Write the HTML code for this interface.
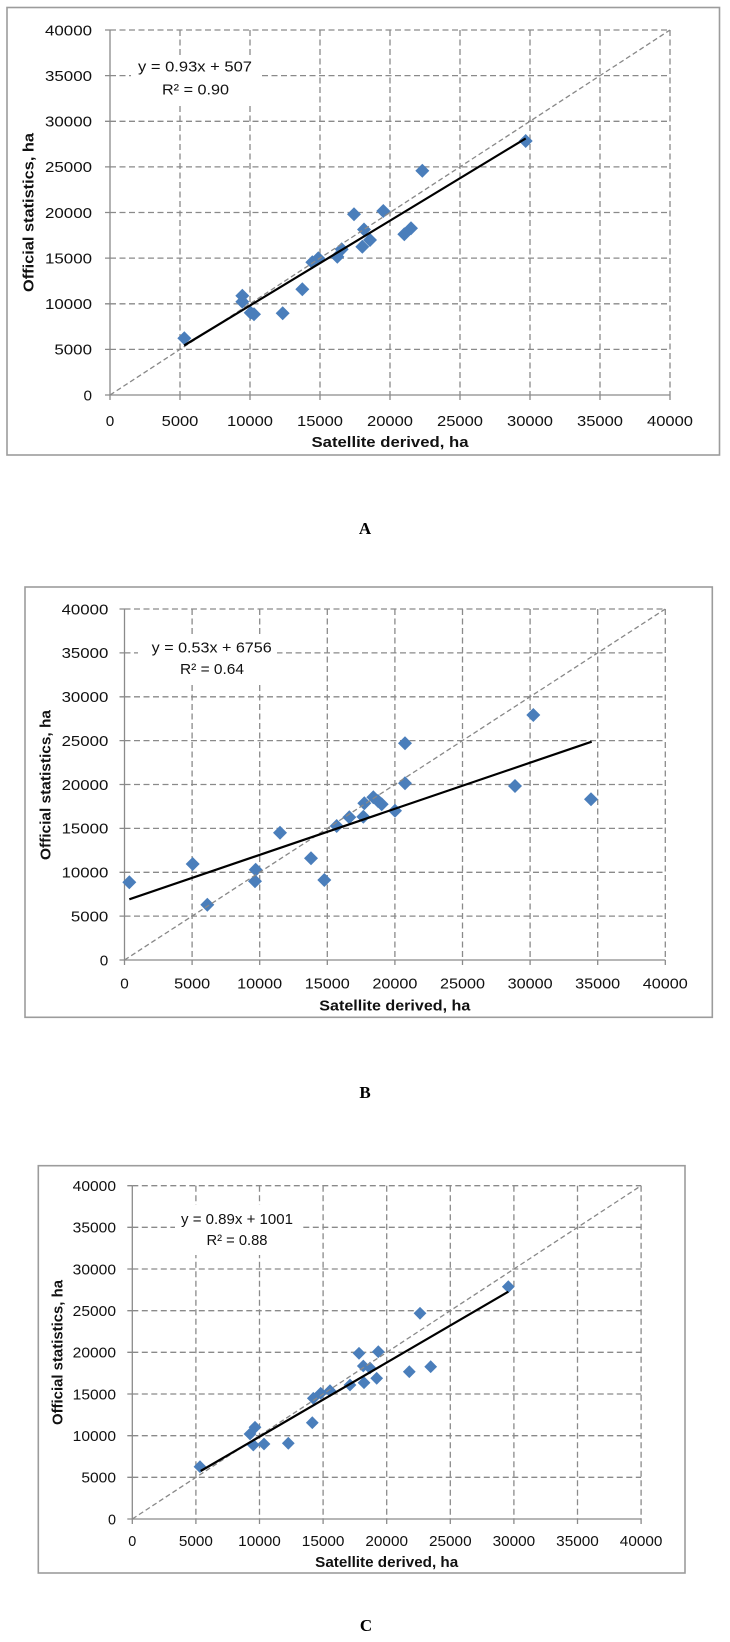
<!DOCTYPE html>
<html>
<head>
<meta charset="utf-8">
<style>
html,body{margin:0;padding:0;background:#fff;}
svg{display:block;}
text{font-family:"Liberation Sans",sans-serif;fill:#111;}
.t{font-size:15px;}
.b{font-size:15px;font-weight:bold;}
.lab{font-family:"Liberation Serif",serif;font-size:17px;font-weight:bold;fill:#000;}
.grid{stroke:#8a8a8a;stroke-width:1.3;stroke-dasharray:6,3.5;fill:none;}
.axis{stroke:#8a8a8a;stroke-width:1.3;fill:none;}
.diag{stroke:#888;stroke-width:1.3;stroke-dasharray:5,3;fill:none;}
.reg{stroke:#000;stroke-width:2.2;fill:none;}
.frame{stroke:#9c9c9c;stroke-width:1.6;fill:#fff;}
.pt{fill:#4a7ebb;}
</style>
</head>
<body>
<svg width="730" height="1642" viewBox="0 0 730 1642" xmlns="http://www.w3.org/2000/svg">
<defs>
<path id="dA" d="M0,-7L7,0L0,7L-7,0Z"/>
<path id="dC" d="M0,-6.4L6.4,0L0,6.4L-6.4,0Z"/>
</defs>
<rect width="730" height="1642" fill="#fff"/>

<!-- ================= CHART A ================= -->
<rect class="frame" x="7" y="7.5" width="712.5" height="447.5"/>
<g class="grid">
<path d="M180,30V395M250,30V395M320,30V395M390,30V395M460,30V395M530,30V395M600,30V395M670,30V395"/>
<path d="M110,30H670M110,75.6H670M110,121.3H670M110,166.9H670M110,212.5H670M110,258.1H670M110,303.8H670M110,349.4H670"/>
</g>
<g class="axis">
<path d="M110,30V395M105,395H670"/>
<path d="M105,30H110M105,75.6H110M105,121.3H110M105,166.9H110M105,212.5H110M105,258.1H110M105,303.8H110M105,349.4H110"/>
<path d="M110,395V400M180,395V400M250,395V400M320,395V400M390,395V400M460,395V400M530,395V400M600,395V400M670,395V400"/>
</g>
<g class="pt">
<use href="#dA" x="184.3" y="338.3"/>
<use href="#dA" x="242.3" y="295.7"/>
<use href="#dA" x="242.3" y="301.7"/>
<use href="#dA" x="250.7" y="312.7"/>
<use href="#dA" x="254" y="314.3"/>
<use href="#dA" x="282.7" y="313.3"/>
<use href="#dA" x="302.3" y="289.3"/>
<use href="#dA" x="312.3" y="262.3"/>
<use href="#dA" x="318.3" y="258.3"/>
<use href="#dA" x="337.3" y="256.7"/>
<use href="#dA" x="341.7" y="249.3"/>
<use href="#dA" x="354" y="214.3"/>
<use href="#dA" x="364" y="229.5"/>
<use href="#dA" x="362.3" y="246.7"/>
<use href="#dA" x="370" y="240"/>
<use href="#dA" x="383.3" y="211"/>
<use href="#dA" x="404.3" y="234.3"/>
<use href="#dA" x="411" y="228.3"/>
<use href="#dA" x="422.3" y="170.7"/>
<use href="#dA" x="525.7" y="141"/>
</g>
<path class="diag" d="M110,395L670,30"/>
<path class="reg" d="M184.1,345.5L525.7,138.4"/>
<rect x="131" y="55" width="129" height="49" fill="#fff"/>
<text class="t" x="195" y="71.7" text-anchor="middle" textLength="114" lengthAdjust="spacingAndGlyphs">y = 0.93x + 507</text>
<text class="t" x="195.5" y="94.3" text-anchor="middle" textLength="67" lengthAdjust="spacingAndGlyphs">R² = 0.90</text>
<g class="t" text-anchor="end">
<text x="92" y="35.3" textLength="47" lengthAdjust="spacingAndGlyphs">40000</text>
<text x="92" y="80.9" textLength="47" lengthAdjust="spacingAndGlyphs">35000</text>
<text x="92" y="126.6" textLength="47" lengthAdjust="spacingAndGlyphs">30000</text>
<text x="92" y="172.2" textLength="47" lengthAdjust="spacingAndGlyphs">25000</text>
<text x="92" y="217.8" textLength="47" lengthAdjust="spacingAndGlyphs">20000</text>
<text x="92" y="263.4" textLength="47" lengthAdjust="spacingAndGlyphs">15000</text>
<text x="92" y="309.1" textLength="47" lengthAdjust="spacingAndGlyphs">10000</text>
<text x="92" y="354.7" textLength="37.6" lengthAdjust="spacingAndGlyphs">5000</text>
<text x="92" y="400.3" textLength="8.5" lengthAdjust="spacingAndGlyphs">0</text>
</g>
<g class="t" text-anchor="middle">
<text x="110" y="426" textLength="8.5" lengthAdjust="spacingAndGlyphs">0</text>
<text x="180" y="426" textLength="36.7" lengthAdjust="spacingAndGlyphs">5000</text>
<text x="250" y="426" textLength="46" lengthAdjust="spacingAndGlyphs">10000</text>
<text x="320" y="426" textLength="46" lengthAdjust="spacingAndGlyphs">15000</text>
<text x="390" y="426" textLength="46" lengthAdjust="spacingAndGlyphs">20000</text>
<text x="460" y="426" textLength="46" lengthAdjust="spacingAndGlyphs">25000</text>
<text x="530" y="426" textLength="46" lengthAdjust="spacingAndGlyphs">30000</text>
<text x="600" y="426" textLength="46" lengthAdjust="spacingAndGlyphs">35000</text>
<text x="670" y="426" textLength="46" lengthAdjust="spacingAndGlyphs">40000</text>
</g>
<text class="b" x="390" y="447" text-anchor="middle" textLength="157" lengthAdjust="spacingAndGlyphs">Satellite derived, ha</text>
<text class="b" transform="translate(33.5,212.5) rotate(-90)" x="0" y="0" text-anchor="middle" textLength="159" lengthAdjust="spacingAndGlyphs">Official statistics, ha</text>
<text class="lab" x="365" y="534" text-anchor="middle">A</text>

<!-- ================= CHART B ================= -->
<rect class="frame" x="25" y="587" width="687.3" height="430.3"/>
<g class="grid">
<path d="M192.1,609V960M259.7,609V960M327.3,609V960M394.9,609V960M462.5,609V960M530.1,609V960M597.7,609V960M665.3,609V960"/>
<path d="M124.5,609H665.3M124.5,652.9H665.3M124.5,696.8H665.3M124.5,740.6H665.3M124.5,784.5H665.3M124.5,828.4H665.3M124.5,872.3H665.3M124.5,916.1H665.3"/>
</g>
<g class="axis">
<path d="M124.5,609V960M119.5,960H665.3"/>
<path d="M119.5,609H124.5M119.5,652.9H124.5M119.5,696.8H124.5M119.5,740.6H124.5M119.5,784.5H124.5M119.5,828.4H124.5M119.5,872.3H124.5M119.5,916.1H124.5"/>
<path d="M124.5,960V965M192.1,960V965M259.7,960V965M327.3,960V965M394.9,960V965M462.5,960V965M530.1,960V965M597.7,960V965M665.3,960V965"/>
</g>
<g class="pt">
<use href="#dA" x="129.3" y="882.3"/>
<use href="#dA" x="192.7" y="864"/>
<use href="#dA" x="207.3" y="904.7"/>
<use href="#dA" x="255.7" y="869.7"/>
<use href="#dA" x="255" y="881.3"/>
<use href="#dA" x="280" y="832.7"/>
<use href="#dA" x="311" y="858.3"/>
<use href="#dA" x="324.3" y="880"/>
<use href="#dA" x="336.7" y="826"/>
<use href="#dA" x="349.3" y="817.3"/>
<use href="#dA" x="363.3" y="816.7"/>
<use href="#dA" x="364.3" y="803.3"/>
<use href="#dA" x="373.3" y="797.3"/>
<use href="#dA" x="378" y="801"/>
<use href="#dA" x="381.7" y="804.3"/>
<use href="#dA" x="395" y="810.7"/>
<use href="#dA" x="405" y="783.3"/>
<use href="#dA" x="405" y="743.3"/>
<use href="#dA" x="533.3" y="715"/>
<use href="#dA" x="515" y="786"/>
<use href="#dA" x="591" y="799.3"/>
</g>
<path class="diag" d="M124.5,960L665.3,609"/>
<path class="reg" d="M129.3,899.3L591.7,741.7"/>
<rect x="138" y="635" width="139" height="48" fill="#fff"/>
<text class="t" x="211.7" y="652.3" text-anchor="middle" textLength="120" lengthAdjust="spacingAndGlyphs">y = 0.53x + 6756</text>
<text class="t" x="212" y="674" text-anchor="middle" textLength="64" lengthAdjust="spacingAndGlyphs">R² = 0.64</text>
<g class="t" text-anchor="end">
<text x="108.3" y="614.3" textLength="46.7" lengthAdjust="spacingAndGlyphs">40000</text>
<text x="108.3" y="658.2" textLength="46.7" lengthAdjust="spacingAndGlyphs">35000</text>
<text x="108.3" y="702.1" textLength="46.7" lengthAdjust="spacingAndGlyphs">30000</text>
<text x="108.3" y="745.9" textLength="46.7" lengthAdjust="spacingAndGlyphs">25000</text>
<text x="108.3" y="789.8" textLength="46.7" lengthAdjust="spacingAndGlyphs">20000</text>
<text x="108.3" y="833.7" textLength="46.7" lengthAdjust="spacingAndGlyphs">15000</text>
<text x="108.3" y="877.6" textLength="46.7" lengthAdjust="spacingAndGlyphs">10000</text>
<text x="108.3" y="921.4" textLength="37.4" lengthAdjust="spacingAndGlyphs">5000</text>
<text x="108.3" y="965.3" textLength="8.5" lengthAdjust="spacingAndGlyphs">0</text>
</g>
<g class="t" text-anchor="middle">
<text x="124.5" y="988.3" textLength="8.5" lengthAdjust="spacingAndGlyphs">0</text>
<text x="192.1" y="988.3" textLength="36" lengthAdjust="spacingAndGlyphs">5000</text>
<text x="259.7" y="988.3" textLength="45" lengthAdjust="spacingAndGlyphs">10000</text>
<text x="327.3" y="988.3" textLength="45" lengthAdjust="spacingAndGlyphs">15000</text>
<text x="394.9" y="988.3" textLength="45" lengthAdjust="spacingAndGlyphs">20000</text>
<text x="462.5" y="988.3" textLength="45" lengthAdjust="spacingAndGlyphs">25000</text>
<text x="530.1" y="988.3" textLength="45" lengthAdjust="spacingAndGlyphs">30000</text>
<text x="597.7" y="988.3" textLength="45" lengthAdjust="spacingAndGlyphs">35000</text>
<text x="665.3" y="988.3" textLength="45" lengthAdjust="spacingAndGlyphs">40000</text>
</g>
<text class="b" x="394.8" y="1010.3" text-anchor="middle" textLength="151" lengthAdjust="spacingAndGlyphs">Satellite derived, ha</text>
<text class="b" transform="translate(50.5,785) rotate(-90)" x="0" y="0" text-anchor="middle" textLength="150" lengthAdjust="spacingAndGlyphs">Official statistics, ha</text>
<text class="lab" x="365" y="1098" text-anchor="middle">B</text>

<!-- ================= CHART C ================= -->
<rect class="frame" x="38.3" y="1165.7" width="646.7" height="407.3"/>
<g class="grid">
<path d="M195.9,1185.7V1519M259.5,1185.7V1519M323.1,1185.7V1519M386.7,1185.7V1519M450.3,1185.7V1519M513.9,1185.7V1519M577.5,1185.7V1519M641.1,1185.7V1519"/>
<path d="M132.3,1185.7H641.1M132.3,1227.3H641.1M132.3,1269H641.1M132.3,1310.7H641.1M132.3,1352.3H641.1M132.3,1394H641.1M132.3,1435.7H641.1M132.3,1477.3H641.1"/>
</g>
<g class="axis">
<path d="M132.3,1185.7V1519M127.3,1519H641.1"/>
<path d="M127.3,1185.7H132.3M127.3,1227.3H132.3M127.3,1269H132.3M127.3,1310.7H132.3M127.3,1352.3H132.3M127.3,1394H132.3M127.3,1435.7H132.3M127.3,1477.3H132.3"/>
<path d="M132.3,1519V1524M195.9,1519V1524M259.5,1519V1524M323.1,1519V1524M386.7,1519V1524M450.3,1519V1524M513.9,1519V1524M577.5,1519V1524M641.1,1519V1524"/>
</g>
<g class="pt">
<use href="#dC" x="200" y="1466.7"/>
<use href="#dC" x="250" y="1434"/>
<use href="#dC" x="255" y="1427.3"/>
<use href="#dC" x="253.3" y="1445"/>
<use href="#dC" x="264" y="1444"/>
<use href="#dC" x="288.3" y="1443.3"/>
<use href="#dC" x="312.3" y="1422.7"/>
<use href="#dC" x="313.3" y="1398.3"/>
<use href="#dC" x="320.7" y="1393.3"/>
<use href="#dC" x="330" y="1390.7"/>
<use href="#dC" x="350" y="1385"/>
<use href="#dC" x="359" y="1353.3"/>
<use href="#dC" x="363.3" y="1366"/>
<use href="#dC" x="364" y="1382.7"/>
<use href="#dC" x="370" y="1368"/>
<use href="#dC" x="376.7" y="1378.3"/>
<use href="#dC" x="378.3" y="1351.7"/>
<use href="#dC" x="409.3" y="1371.7"/>
<use href="#dC" x="430.7" y="1366.7"/>
<use href="#dC" x="420" y="1313.3"/>
<use href="#dC" x="508.3" y="1286.7"/>
</g>
<path class="diag" d="M132.3,1519L641.1,1185.7"/>
<path class="reg" d="M200.7,1471L508.3,1291.7"/>
<rect x="175" y="1205" width="127" height="50" fill="#fff"/>
<text class="t" x="237" y="1224" text-anchor="middle" textLength="112" lengthAdjust="spacingAndGlyphs">y = 0.89x + 1001</text>
<text class="t" x="237" y="1245" text-anchor="middle" textLength="61" lengthAdjust="spacingAndGlyphs">R² = 0.88</text>
<g class="t" text-anchor="end">
<text x="116" y="1191" textLength="43.3" lengthAdjust="spacingAndGlyphs">40000</text>
<text x="116" y="1232.6" textLength="43.3" lengthAdjust="spacingAndGlyphs">35000</text>
<text x="116" y="1274.3" textLength="43.3" lengthAdjust="spacingAndGlyphs">30000</text>
<text x="116" y="1316" textLength="43.3" lengthAdjust="spacingAndGlyphs">25000</text>
<text x="116" y="1357.6" textLength="43.3" lengthAdjust="spacingAndGlyphs">20000</text>
<text x="116" y="1399.3" textLength="43.3" lengthAdjust="spacingAndGlyphs">15000</text>
<text x="116" y="1441" textLength="43.3" lengthAdjust="spacingAndGlyphs">10000</text>
<text x="116" y="1482.6" textLength="34.6" lengthAdjust="spacingAndGlyphs">5000</text>
<text x="116" y="1524.3" textLength="8" lengthAdjust="spacingAndGlyphs">0</text>
</g>
<g class="t" text-anchor="middle">
<text x="132.3" y="1546" textLength="8" lengthAdjust="spacingAndGlyphs">0</text>
<text x="195.9" y="1546" textLength="34" lengthAdjust="spacingAndGlyphs">5000</text>
<text x="259.5" y="1546" textLength="42.6" lengthAdjust="spacingAndGlyphs">10000</text>
<text x="323.1" y="1546" textLength="42.6" lengthAdjust="spacingAndGlyphs">15000</text>
<text x="386.7" y="1546" textLength="42.6" lengthAdjust="spacingAndGlyphs">20000</text>
<text x="450.3" y="1546" textLength="42.6" lengthAdjust="spacingAndGlyphs">25000</text>
<text x="513.9" y="1546" textLength="42.6" lengthAdjust="spacingAndGlyphs">30000</text>
<text x="577.5" y="1546" textLength="42.6" lengthAdjust="spacingAndGlyphs">35000</text>
<text x="641.1" y="1546" textLength="42.6" lengthAdjust="spacingAndGlyphs">40000</text>
</g>
<text class="b" x="386.7" y="1567" text-anchor="middle" textLength="143" lengthAdjust="spacingAndGlyphs">Satellite derived, ha</text>
<text class="b" transform="translate(62.5,1352.5) rotate(-90)" x="0" y="0" text-anchor="middle" textLength="145" lengthAdjust="spacingAndGlyphs">Official statistics, ha</text>
<text class="lab" x="366" y="1631" text-anchor="middle">C</text>
</svg>
</body>
</html>
